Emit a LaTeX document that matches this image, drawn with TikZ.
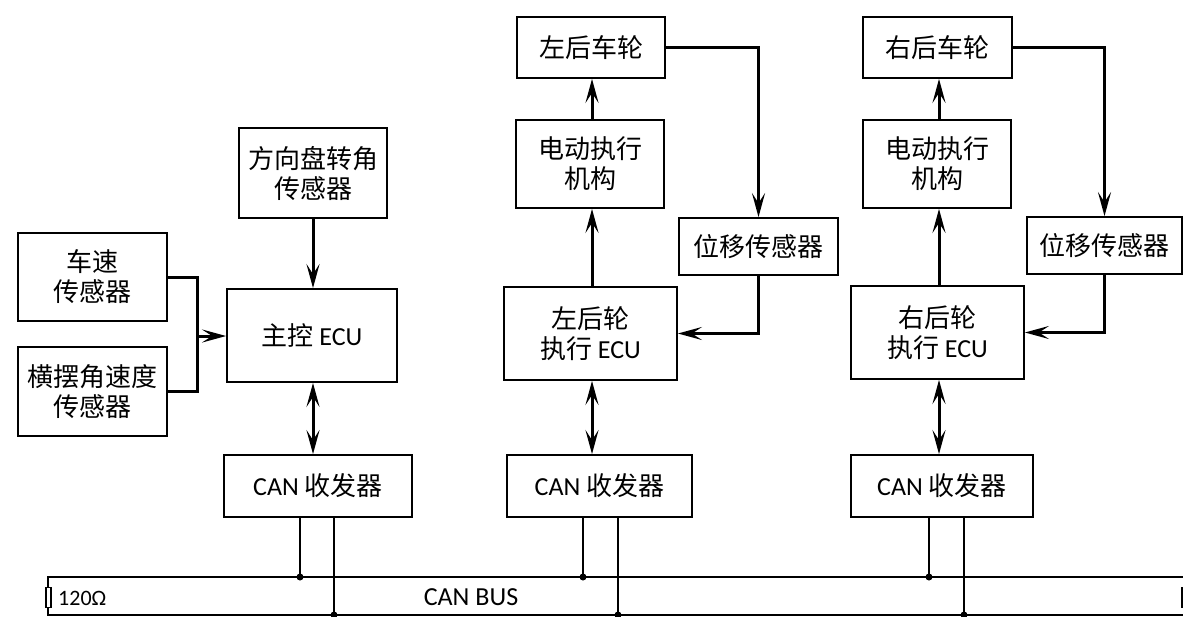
\documentclass[tikz,border=0pt]{standalone}
\usepackage{fontspec}
\setmainfont{Carlito}
\newfontfamily\cjk{Noto Sans CJK SC}
\usetikzlibrary{arrows.meta}
\newcommand{\zh}[1]{{\cjk #1}}
\begin{document}
\begin{tikzpicture}[x=1pt,y=-1pt,
  box/.style={draw,line width=1.8pt,rectangle,inner sep=0pt,align=center,
    font=\fontsize{26}{30}\selectfont},
  conn/.style={line width=3pt},
  arr/.style={conn,-{Stealth[length=24pt,width=13pt,inset=10pt]}},
  darr/.style={conn,{Stealth[length=24pt,width=13pt,inset=10pt]}-{Stealth[length=24pt,width=13pt,inset=10pt]}},
  bus/.style={line width=2pt},
  dot/.style={circle,fill,inner sep=0pt,minimum size=7pt}
]
\useasboundingbox (0,0) rectangle (1183,616);

% boxes
\node[box,minimum width=149pt,minimum height=88pt] (speed) at (92.5,277) {\zh{车速}\\\zh{传感器}};
\node[box,minimum width=149pt,minimum height=89pt] (yaw) at (92.5,391.5) {\zh{横摆角速度}\\\zh{传感器}};
\node[box,minimum width=148pt,minimum height=90pt] (steer) at (313,173) {\zh{方向盘转角}\\\zh{传感器}};
\node[box,minimum width=170pt,minimum height=93pt] (main) at (312,335.5) {\zh{主控} ECU};
\node[box,minimum width=188pt,minimum height=62pt] (can1) at (318,486) {CAN \zh{收发器}};

\node[box,minimum width=148pt,minimum height=61pt] (lwheel) at (591,47.5) {\zh{左后车轮}};
\node[box,minimum width=148pt,minimum height=88pt] (lact) at (590,164) {\zh{电动执行}\\\zh{机构}};
\node[box,minimum width=159pt,minimum height=57pt] (ldisp) at (758.5,246.5) {\zh{位移传感器}};
\node[box,minimum width=173pt,minimum height=93pt] (lecu) at (590.5,333.5) {\zh{左后轮}\\\zh{执行} ECU};
\node[box,minimum width=185pt,minimum height=62pt] (can2) at (599.5,486) {CAN \zh{收发器}};

\node[box,minimum width=149pt,minimum height=61pt] (rwheel) at (937.5,47.5) {\zh{右后车轮}};
\node[box,minimum width=148pt,minimum height=88pt] (ract) at (937,164) {\zh{电动执行}\\\zh{机构}};
\node[box,minimum width=155pt,minimum height=57pt] (rdisp) at (1104.5,245.5) {\zh{位移传感器}};
\node[box,minimum width=173pt,minimum height=93pt] (recu) at (937.5,332.5) {\zh{右后轮}\\\zh{执行} ECU};
\node[box,minimum width=182pt,minimum height=62pt] (can3) at (942,486) {CAN \zh{收发器}};

% left sensors merge
\coordinate (j) at (197,336);
\draw[conn] (speed.east) -| (j) |- (yaw.east);
\draw[arr] (j) -- (main.west |- j);
\draw[arr] (steer.south) -- (steer.south |- main.north);
\coordinate (m1) at (313,382);
\draw[darr] (main.south -| m1) -- (can1.north -| m1);

% left wheel chain
\coordinate (lx) at (592,0);
\draw[arr] (lecu.north -| lx) -- (lact.south -| lx);
\draw[arr] (lact.north -| lx) -- (lwheel.south -| lx);
\draw[arr] (lwheel.east) -| (ldisp.north);
\draw[arr] (ldisp.south) |- (lecu.east);
\draw[darr] (lecu.south -| lx) -- (can2.north -| lx);

% right wheel chain
\coordinate (rx) at (939,0);
\draw[arr] (recu.north -| rx) -- (ract.south -| rx);
\draw[arr] (ract.north -| rx) -- (rwheel.south -| rx);
\draw[arr] (rwheel.east) -| (rdisp.north);
\draw[arr] (rdisp.south) |- (recu.east);
\draw[darr] (recu.south -| rx) -- (can3.north -| rx);

% CAN bus
\coordinate (bl) at (48,577);
\coordinate (br) at (1184,577);
\coordinate (bbl) at (48,615);
\coordinate (bbr) at (1184,615);
\draw[bus] (br) -- (bl) -- (bbl) -- (bbr) -- (br);
\node[draw,fill=white,line width=1.4pt,inner sep=0pt,minimum width=5pt,minimum height=20pt] (r1) at (48.5,597.5) {};
\node[draw,fill=white,line width=1.4pt,inner sep=0pt,minimum width=5pt,minimum height=20pt] (r2) at (1184.5,597.5) {};
\node[anchor=west,font=\fontsize{22}{26}\selectfont,inner sep=0pt] (ohm) at (58,598) {120Ω};
\node[font=\fontsize{26}{30}\selectfont,inner sep=0pt] (busl) at (471,597) {CAN BUS};

% transceiver taps
\foreach \n/\a/\b in {can1/300/334, can2/583/618, can3/929/964}{
  \coordinate (ta) at (\a,577);
  \coordinate (tb) at (\b,615);
  \draw[bus] (\n.south -| ta) -- (ta);
  \draw[bus] (\n.south -| tb) -- (tb);
  \node[dot] at (ta) {};
  \node[dot] at (tb) {};
}
\end{tikzpicture}
\end{document}
